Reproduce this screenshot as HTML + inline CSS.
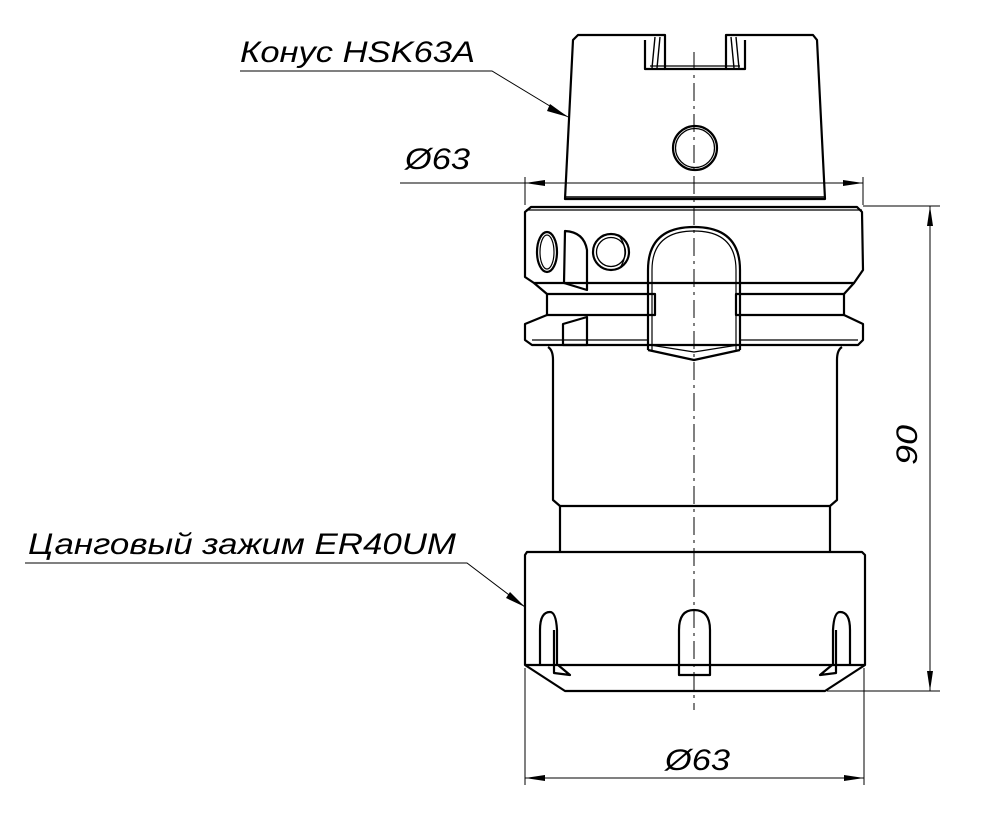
<!DOCTYPE html>
<html><head><meta charset="utf-8"><style>
html,body{margin:0;padding:0;background:#fff;}
svg{display:block}
text{font-family:"Liberation Sans","DejaVu Sans",sans-serif;font-style:italic;fill:#000}
</style></head><body>
<svg width="991" height="821" viewBox="0 0 991 821" xmlns="http://www.w3.org/2000/svg">
<g fill="none" stroke="#000" stroke-width="2.2" stroke-linejoin="round">
<!-- taper -->
<path d="M578,35 L665,35 L665,69 L726,69 L726,35 L813,35 L817,40 L825,199 L565,199 L573,40 Z"/>
<line x1="566" y1="197" x2="824" y2="197" stroke-width="1.5"/>
<path d="M645,40 L645,69 L665,69 M745,40 L745,69 L726,69" />
<path d="M655,37 L652,68 M660,37 L657,68 M736,37 L739,68 M731,37 L734,68" stroke-width="1.4"/>
<line x1="650" y1="66" x2="740" y2="66" stroke-width="1.2"/>
<circle cx="695" cy="148" r="22"/>
<circle cx="695" cy="148" r="19.5" stroke-width="1.3"/>
<!-- flange 1 -->
<path d="M531,207 L857,207 L862,212 L863,270 L854,283 L534,283 L525,277 L525,212 Z"/>
<line x1="526" y1="210" x2="862" y2="210" stroke-width="1.3"/>
<ellipse cx="547" cy="252" rx="10" ry="20"/>
<ellipse cx="547" cy="252" rx="7" ry="17" stroke-width="1.2"/>
<path d="M565,231 Q584,232 587,250 L587,290 L564,283 Z"/>
<circle cx="611" cy="252" r="18"/>
<circle cx="611" cy="252" r="14.5" stroke-width="1.3"/>
<path d="M620,237 Q630,252 620,268" stroke-width="1.3"/>
<!-- arch -->
<path d="M648,350 L648,270 Q648,227 694,227 Q740,227 740,270 L740,350" />
<path d="M652,350 L652,270 Q652,231 694,231 Q736,231 736,270 L736,350" stroke-width="1.2"/>
<path d="M648,350 L694,360 L740,350"/>
<path d="M650,345 L694,352 L738,345" stroke-width="1.2"/>
<!-- groove -->
<path d="M547,294 L655,294 L655,315 L547,315 Z"/>
<path d="M736,294 L844,294 L844,315 L736,315 Z"/>
<path d="M534,283 L547,294 M854,283 L844,294"/>
<!-- flange 2 -->
<path d="M547,315 L525,324 L525,340 L532,345 L858,345 L863,340 L863,324 L844,315"/>
<line x1="532" y1="340" x2="648" y2="340" stroke-width="1.3"/>
<line x1="740" y1="340" x2="858" y2="340" stroke-width="1.3"/>
<path d="M563,324 L587,317 L587,345 L563,345 Z"/>
<!-- body -->
<path d="M548,347 Q553,350 553,360 L553,500 L560,506 L830,506 L837,500 L837,360 Q837,350 842,347"/>
<path d="M560,506 L560,552 M830,506 L830,552"/>
<!-- nut -->
<path d="M527,552 L862,552 L865,555 L865,665 L825,691 L565,691 L525,665 L525,555 Z"/>
<line x1="525" y1="665" x2="865" y2="665"/>
<path d="M540,665 L540,630 Q540,612 550,612 Q556,612 557,630 L557,665 M554,630 L554,673 L570,675 L558,665"/>
<path d="M679,675 L679,630 Q679,610 694,610 Q710,610 710,630 L710,675 Z"/>
<path d="M850,665 L850,630 Q850,612 840,612 Q834,612 833,630 L833,665 M836,630 L836,673 L820,675 L832,665"/>
</g>
<!-- centerline -->
<line x1="694" y1="52" x2="694" y2="710" stroke="#000" stroke-width="1" stroke-dasharray="18,5,3,5"/>
<!-- dimensions -->
<g stroke="#000" stroke-width="1" fill="none">
<line x1="400" y1="183" x2="863" y2="183"/>
<line x1="525" y1="177" x2="525" y2="205"/>
<line x1="863" y1="177" x2="863" y2="205"/>
<line x1="863" y1="206" x2="940" y2="206"/>
<line x1="827" y1="691" x2="940" y2="691"/>
<line x1="930" y1="206" x2="930" y2="691"/>
<line x1="525" y1="668" x2="525" y2="785"/>
<line x1="864" y1="668" x2="864" y2="785"/>
<line x1="525" y1="778" x2="864" y2="778"/>
<polyline points="240,71 492,71 568,117"/>
<polyline points="25,563 467,563 525,607"/>
</g>
<g fill="#000">
<polygon points="525,183 545,180 545,186"/>
<polygon points="863,183 843,180 843,186"/>
<polygon points="930,206 927,226 933,226"/>
<polygon points="930,691 927,671 933,671"/>
<polygon points="525,778 545,775 545,781"/>
<polygon points="864,778 844,775 844,781"/>
<polygon points="568,117 550,104 547,111"/>
<polygon points="525,607 510,592 506,598"/>
</g>
<text x="240" y="62" font-size="30" textLength="235" lengthAdjust="spacingAndGlyphs">Конус HSK63A</text>
<text x="405" y="169" font-size="30" textLength="65" lengthAdjust="spacingAndGlyphs">Ø63</text>
<text x="28" y="554" font-size="30" textLength="428" lengthAdjust="spacingAndGlyphs">Цанговый зажим ER40UM</text>
<text x="665" y="770" font-size="30" textLength="65" lengthAdjust="spacingAndGlyphs">Ø63</text>
<text transform="translate(917,465) rotate(-90)" font-size="30" textLength="40" lengthAdjust="spacingAndGlyphs">90</text>
</svg>
</body></html>
